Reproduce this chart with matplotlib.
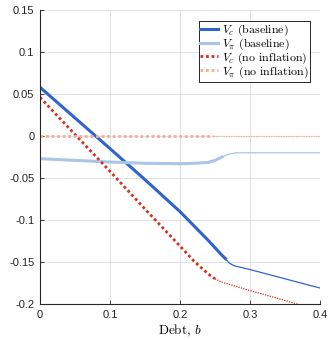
import matplotlib
matplotlib.use("Agg")
import matplotlib.pyplot as plt

# Debt grid and values, split into the solid (thick) part and the thin tail
b_vc_base = [0, 0.05, 0.1, 0.15, 0.2, 0.22, 0.24, 0.25, 0.26, 0.265]
vc_base = [0.058, 0.0215, -0.015, -0.052, -0.090, -0.107, -0.124, -0.133, -0.142, -0.146]
b_vc_base_tail = [0.265, 0.27, 0.275, 0.28, 0.3, 0.35, 0.4]
vc_base_tail = [-0.146, -0.151, -0.1535, -0.155, -0.159, -0.170, -0.181]

b_vpi_base = [0, 0.05, 0.1, 0.15, 0.2, 0.22, 0.24, 0.25, 0.26]
vpi_base = [-0.027, -0.029, -0.031, -0.0325, -0.033, -0.0325, -0.0315, -0.029, -0.025]
b_vpi_base_tail = [0.26, 0.27, 0.28, 0.3, 0.4]
vpi_base_tail = [-0.025, -0.0215, -0.020, -0.020, -0.020]

b_vc_noinf = [0, 0.05, 0.1, 0.15, 0.2, 0.22, 0.24, 0.25]
vc_noinf = [0.046, 0.0018, -0.042, -0.087, -0.131, -0.149, -0.164, -0.170]
b_vc_noinf_tail = [0.25, 0.26, 0.28, 0.3, 0.33, 0.37, 0.4]
vc_noinf_tail = [-0.170, -0.174, -0.179, -0.184, -0.191, -0.2007, -0.208]

b_vpi_noinf = [0, 0.247]
vpi_noinf = [0, 0]
b_vpi_noinf_tail = [0.247, 0.4]
vpi_noinf_tail = [0, 0]

x_ticks = [0, 0.1, 0.2, 0.3, 0.4]
y_ticks = [-0.2, -0.15, -0.1, -0.05, 0, 0.05, 0.1, 0.15]
y_labels = ["-0.2", "-0.15", "-0.1", "-0.05", "0", "0.05", "0.1", "0.15"]

plt.rcParams["mathtext.fontset"] = "cm"

blue = "#2f63cf"
lightblue = "#a9c6e8"
red = "#d3301f"
salmon = "#f8ab97"
dots = (0, (1, 1))

fig = plt.figure(figsize=(3.29, 3.40), dpi=100)
ax = fig.add_axes([0.1216, 0.1059, 0.851, 0.8647])

ax.plot(b_vc_base, vc_base, color=blue, lw=2.2, label=r"$V_c$ (baseline)")
ax.plot(b_vc_base_tail, vc_base_tail, color=blue, lw=0.9)
ax.plot(b_vpi_base, vpi_base, color=lightblue, lw=2.2, label=r"$V_\pi$ (baseline)")
ax.plot(b_vpi_base_tail, vpi_base_tail, color=lightblue, lw=0.9)
ax.plot(b_vc_noinf, vc_noinf, color=red, lw=2.0, ls=dots, label=r"$V_c$ (no inflation)")
ax.plot(b_vc_noinf_tail, vc_noinf_tail, color=red, lw=0.9, ls=dots)
ax.plot(b_vpi_noinf, vpi_noinf, color=salmon, lw=2.0, ls=dots, label=r"$V_\pi$ (no inflation)")
ax.plot(b_vpi_noinf_tail, vpi_noinf_tail, color=salmon, lw=0.9, ls=dots)

ax.set_xlim(0, 0.4)
ax.set_ylim(-0.2, 0.15)
ax.set_xticks(x_ticks)
ax.set_xticklabels([str(t) for t in x_ticks], family="Liberation Sans", fontsize=8)
ax.set_yticks(y_ticks)
ax.set_yticklabels(y_labels, family="Liberation Sans", fontsize=8)
ax.tick_params(direction="in", length=3, width=0.6, colors="#262626", pad=4)
ax.grid(True, color="#dcdcdc", lw=0.6)
ax.set_axisbelow(True)
for s in ["top", "right"]:
    ax.spines[s].set_visible(False)
for s in ["left", "bottom"]:
    ax.spines[s].set_color("#262626")
    ax.spines[s].set_linewidth(0.8)

ax.set_xlabel("Debt, $b$", family="cmr10", fontsize=9.5, labelpad=2)

leg = ax.legend(loc="upper right", bbox_to_anchor=(0.965, 0.963), prop={"family": "cmr10", "size": 8.6},
                handlelength=1.5, handletextpad=0.3, borderpad=0.15, labelspacing=-0.12,
                fancybox=False, framealpha=1, edgecolor="black", borderaxespad=0)
leg.get_frame().set_linewidth(0.6)

fig.savefig("out.png", dpi=100)
